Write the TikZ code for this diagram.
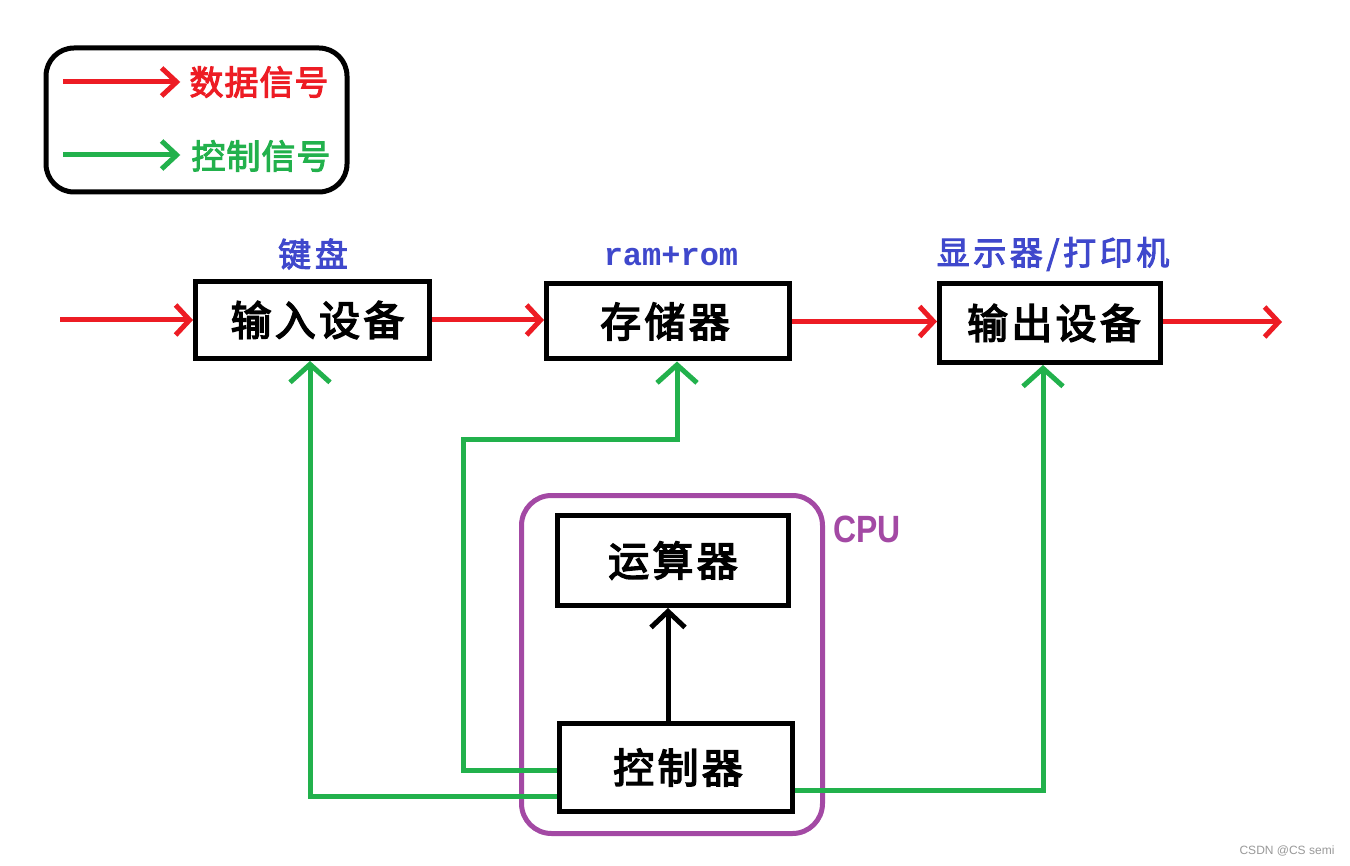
\documentclass[tikz,border=0pt]{standalone}
\usepackage{fontspec}
\usepackage{graphicx}
\newfontfamily\cjkm[FakeBold=3.5, LetterSpace=8]{Noto Sans CJK SC}
\newfontfamily\cjkl[FakeBold=2.8, LetterSpace=11]{Noto Sans CJK SC}
\newfontfamily\cjkg[FakeBold=3, LetterSpace=3]{Noto Sans CJK SC}
\newfontfamily\monob{Liberation Mono}
\newfontfamily\lsans{Liberation Sans}
\usetikzlibrary{arrows.meta}
\definecolor{pred}{HTML}{ED1C24}
\definecolor{pgreen}{HTML}{22B14C}
\definecolor{ppurple}{HTML}{A349A4}
\definecolor{pblue}{HTML}{3F48CC}
\definecolor{wmgray}{HTML}{999999}
\tikzset{
  box/.style={draw=black, line width=5pt, inner sep=0pt, fill=white,
    font={\cjkm\fontsize{41}{50}\selectfont}},
  lbl/.style={inner sep=0pt, text=pblue, font={\cjkl\fontsize{33}{40}\selectfont}},
  legtxt/.style={inner sep=0pt, font={\cjkg\fontsize{34}{42}\selectfont}},
  data/.style={draw=pred, line width=5pt, -{Straight Barb[length=14pt,width=30pt]}},
  datal/.style={draw=pred, line width=5pt, -{Straight Barb[length=15pt,width=28pt]}},
  ctrl/.style={draw=pgreen, line width=5pt, -{Straight Barb[length=18pt,width=40pt]}},
  ctrll/.style={draw=pgreen, line width=5pt, -{Straight Barb[length=15pt,width=28pt]}},
  blk/.style={draw=black, line width=5pt, -{Straight Barb[length=16pt,width=34pt]}},
}
\begin{document}
\begin{tikzpicture}[x=1pt,y=-1pt]
\useasboundingbox[fill=white] (0,0) rectangle (1350,866);

% legend
\node[draw=black, line width=5pt, rounded corners=28pt, minimum width=301pt, minimum height=144pt, inner sep=0pt] (leg) at (196.5,120) {};
\node[legtxt, text=pred] (lt1) at (259,82) {数据信号};
\node[legtxt, text=pgreen] (lt2) at (261,156) {控制信号};
\coordinate (ls1) at (63,82);
\coordinate (ls2) at (63,155);
\draw[datal, shorten >=9pt] (ls1) -- (lt1.west |- ls1);
\draw[ctrll, shorten >=11pt] (ls2) -- (lt2.west |- ls2);

% CPU container
\node[draw=ppurple, line width=5pt, rounded corners=30pt, minimum width=301pt, minimum height=338pt, inner sep=0pt] (cpu) at (672,664.5) {};
\node[inner sep=0pt, text=ppurple, font={\lsans\bfseries\fontsize{38}{44}\selectfont}] (cpulbl) at (867,529) {\scalebox{0.84}[1]{CPU}};

% boxes
\node[box, minimum width=234pt, minimum height=77pt] (in) at (312.5,320) {\hspace*{10pt}输入设备};
\node[box, minimum width=243pt, minimum height=75pt] (mem) at (668,321.5) {存储器\hspace*{6pt}};
\node[box, minimum width=221pt, minimum height=79pt] (out) at (1050,323) {\hspace*{8pt}输出设备};
\node[box, minimum width=231pt, minimum height=90pt] (alu) at (673,560.5) {运算器};
\node[box, minimum width=233pt, minimum height=88pt] (cu) at (676,767.5) {\hspace*{4pt}控制器};

% labels
\node[lbl] (kb) at (313,254) {键盘};
\node[inner sep=0pt, text=pblue, font={\monob\bfseries\fontsize{32}{38}\selectfont}] (rr) at (671,256) {ram+rom};
\node[lbl] (disp) at (1053,254) {显示器/打印机};

% data arrows
\coordinate (s0) at (60,320);
\coordinate (e0) at (1282,322);
\draw[data] (s0) -- (in.west);
\draw[data] (in.east) -- (mem.west |- in.east);
\draw[data] (mem.east) -- (out.west |- mem.east);
\draw[data] (out.east |- e0) -- (e0);

% control arrows
\coordinate (c1) at (463,770);
\coordinate (c2) at (463,440);
\coordinate (c3) at (677,440);
\draw[ctrl] (cu.west |- c1) -- (c1) -- (c2) -- (c3) -- (c3 |- mem.south);
\coordinate (c4) at (310,796);
\draw[ctrl] (cu.west |- c4) -- (c4) -- (c4 |- in.south);
\coordinate (c5) at (1043,790);
\draw[ctrl] (cu.east |- c5) -- (c5) -- (c5 |- out.south);

% internal arrow
\coordinate (c6) at (668,700);
\draw[blk] (c6 |- cu.north) -- (c6 |- alu.south);

% watermark
\node[inner sep=0pt, text=wmgray, font={\lsans\fontsize{12}{14}\selectfont}] (wm) at (1287,851) {CSDN @CS semi};
\end{tikzpicture}
\end{document}
